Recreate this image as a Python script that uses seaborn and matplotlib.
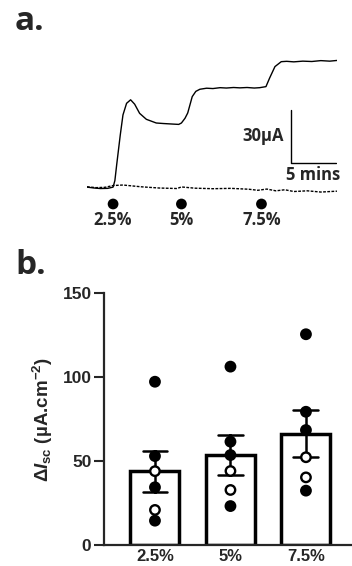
import numpy as np
import pandas as pd
import seaborn as sns
import matplotlib.pyplot as plt

# panel a: trace (time in min, current in uA)
trace_t = [0.0, 0.8, 1.5, 2.3, 2.9, 3.1, 3.3, 3.5, 3.7, 4.0, 4.4, 4.85, 5.3, 5.85,
           6.6, 7.7, 8.5, 9.5, 10.2, 10.5, 10.9, 11.2, 11.7, 12.1, 12.55, 13.3,
           14.0, 14.8, 15.5, 16.3, 17.0, 17.8, 18.6, 19.2, 19.9, 20.3, 20.9, 21.6,
           22.2, 23.0, 24.0, 25.0, 26.0, 27.0, 27.8]
trace_uA = [0.3, -0.2, -0.5, -0.4, 0.3, 4, 13, 21.5, 30, 41.4, 48, 50, 47.5, 42.3,
            38.9, 36.8, 36.5, 36.2, 36.0, 36.8, 39.5, 42.5, 51.8, 54.8, 56.0, 56.6,
            56.4, 56.9, 56.7, 57.0, 56.8, 57.0, 56.7, 56.9, 57.5, 62.3, 68.9, 71.7,
            71.9, 71.6, 72.0, 71.8, 72.3, 72.0, 72.4]
ctrl_t = [0.0, 1.0, 2.0, 2.9, 4.0, 6.0, 8.0, 10.0, 10.5, 12.0, 14.0, 16.0, 18.0,
          19.0, 20.0, 21.0, 22.0, 23.0, 24.5, 26.0, 27.8]
ctrl_uA = [0.5, 0.0, 0.2, 1.2, 1.5, 0.5, -0.2, -0.5, 0.4, -0.3, -0.6, -0.4, -0.9,
           -1.5, -0.8, -1.8, -1.2, -2.2, -1.8, -2.5, -2.0]
add_t = [2.9, 10.5, 19.4]
add_labels = ["2.5%", "5%", "7.5%"]

# panel b: individual responses
doses = ["2.5%", "5%", "7.5%"]
filled_vals = [[97.3, 53.0, 34.4, 14.5], [106.3, 61.6, 53.6, 23.2], [125.6, 79.4, 68.5, 32.4]]
open_vals = [[44.0, 20.9], [44.1, 32.8], [52.3, 40.3]]

rows = []
for d, fv, ov in zip(doses, filled_vals, open_vals):
    for v in fv:
        rows.append((d, v, "filled"))
    for v in ov:
        rows.append((d, v, "open"))
df = pd.DataFrame(rows, columns=["dose", "isc", "kind"])

sns.set_style("ticks")
plt.rcParams['font.family'] = ['Liberation Sans', 'DejaVu Sans']
plt.rcParams['font.weight'] = 'bold'
plt.rcParams['mathtext.fontset'] = 'custom'
plt.rcParams['mathtext.rm'] = 'Liberation Sans:bold'
plt.rcParams['mathtext.it'] = 'Liberation Sans:italic:bold'
plt.rcParams['mathtext.bf'] = 'Liberation Sans:bold'

fig = plt.figure(figsize=(3.52, 5.66), dpi=100)
afont = dict(family="Open Sans", fontweight="bold", fontsize=12)

# ---- panel a ----
ax_a = fig.add_axes([87 / 352, 1 - 230 / 566, 250 / 352, 175 / 566])
sns.lineplot(x=trace_t, y=trace_uA, ax=ax_a, color="black", linewidth=1.0, sort=False)
sns.lineplot(x=ctrl_t, y=ctrl_uA, ax=ax_a, color="black", linewidth=1.0,
             linestyle=(0, (2, 1)), sort=False)
ax_a.set_xlim(0, 27.8)
ax_a.set_ylim(-24.1, 75.5)
ax_a.axis("off")
sns.scatterplot(x=add_t, y=[-9.3] * 3, ax=ax_a, color="black", s=60, edgecolor="none")
for t, lab in zip(add_t, add_labels):
    ax_a.text(t, -18.4, lab, ha="center", va="center", **afont)
# scale bar
ax_a.plot([22.67, 22.67, 27.67], [44.2, 14.2, 14.2], color="black", linewidth=1.0)
ax_a.text(21.9, 29.4, "30µA", ha="right", va="center", **afont)
ax_a.text(25.1, 7.2, "5 mins", ha="center", va="center", **afont)
fig.text(15 / 352, 1 - 22 / 566, "a.", fontsize=24, family="Open Sans",
         fontweight="bold", va="center", ha="left")

# ---- panel b ----
ax_b = fig.add_axes([104 / 352, 1 - 545 / 566, 248 / 352, 251.7 / 566])
sns.barplot(data=df, x="dose", y="isc", order=doses, ax=ax_b, errorbar="se",
            width=0.65, capsize=0.33, color="white", edgecolor="black",
            linewidth=2.5, err_kws={"color": "black", "linewidth": 1.8})
sns.stripplot(data=df, x="dose", y="isc", hue="kind", order=doses, ax=ax_b,
              jitter=False, dodge=False, palette={"filled": "black", "open": "white"},
              edgecolor="black", linewidth=1.7, size=6.8, legend=False, zorder=5)
ax_b.set_xlim(-0.675, 2.61)
ax_b.set_ylim(0, 150)
ax_b.set_yticks([0, 50, 100, 150])
ax_b.tick_params(axis="y", length=7, width=1.5, labelsize=12.5, pad=2)
ax_b.tick_params(axis="x", length=0, labelsize=12, pad=3)
for lab in ax_b.get_xticklabels() + ax_b.get_yticklabels():
    lab.set_fontweight("bold")
    lab.set_family("Liberation Sans")
for s in ["left", "bottom"]:
    ax_b.spines[s].set_linewidth(1.6)
sns.despine(ax=ax_b)
ax_b.set_xlabel("")
ax_b.set_ylabel(r"Δ$\mathit{I}_{\mathrm{sc}}$ (µA.cm$^{-2}$)", fontsize=13.5,
                fontweight="bold", family="Liberation Sans", labelpad=5)
fig.text(15 / 352, 1 - 265 / 566, "b.", fontsize=24, family="Open Sans",
         fontweight="bold", va="center", ha="left")

fig.savefig("out.png", dpi=100)
